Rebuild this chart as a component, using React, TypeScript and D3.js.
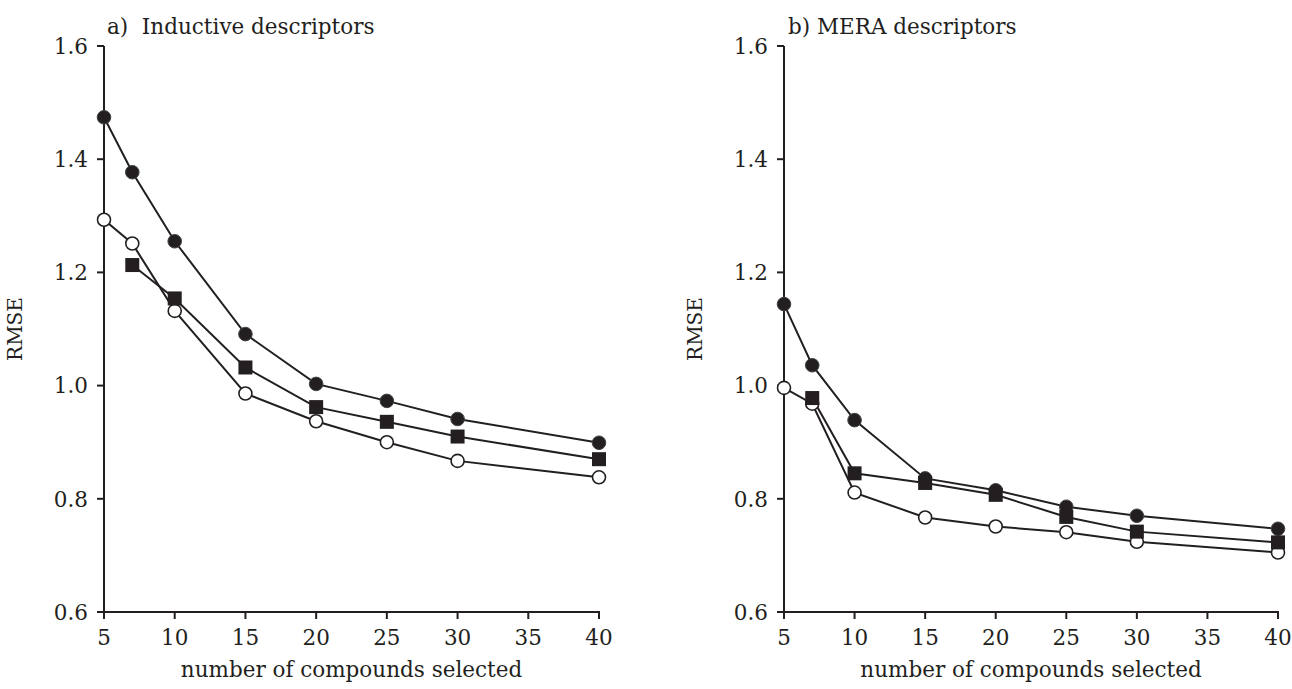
import React from "react";
import * as d3 from "d3";

// Number of compounds selected (shared x values)
const nSelected = [5, 7, 10, 15, 20, 25, 30, 40];
const xTicks = [5, 10, 15, 20, 25, 30, 35, 40];
const yTicks = [0.6, 0.8, 1.0, 1.2, 1.4, 1.6];

// Panel a) Inductive descriptors — RMSE per selection method
const inductiveFilled = [1.474, 1.377, 1.255, 1.091, 1.003, 0.973, 0.941, 0.899];
const inductiveSquare = [null, 1.213, 1.154, 1.032, 0.962, 0.936, 0.91, 0.87];
const inductiveOpen = [1.293, 1.251, 1.132, 0.986, 0.937, 0.9, 0.867, 0.838];

// Panel b) MERA descriptors — RMSE per selection method
const meraFilled = [1.144, 1.036, 0.939, 0.836, 0.815, 0.786, 0.77, 0.747];
const meraSquare = [null, 0.978, 0.845, 0.828, 0.807, 0.768, 0.742, 0.723];
const meraOpen = [0.996, 0.968, 0.811, 0.767, 0.751, 0.741, 0.724, 0.705];

const INK = "#231f20";
const FONT = "'DejaVu Serif', 'Liberation Serif', serif";

type Series = (number | null)[];

interface PanelProps {
  left: number;
  right: number;
  title: string;
  titleX: number;
  filled: Series;
  square: Series;
  open: Series;
}

const TOP = 46;
const BOTTOM = 612;

function Panel({ left, right, title, titleX, filled, square, open }: PanelProps) {
  const x = d3.scaleLinear().domain([5, 40]).range([left, right]);
  const y = d3.scaleLinear().domain([0.6, 1.6]).range([BOTTOM, TOP]);

  const pts = (s: Series) =>
    nSelected
      .map((n, i) => ({ n, v: s[i] }))
      .filter((p) => p.v !== null) as { n: number; v: number }[];

  const line = d3
    .line<{ n: number; v: number }>()
    .x((p) => x(p.n))
    .y((p) => y(p.v));

  const tick = 7;
  const cx = (left + right) / 2;

  return (
    <g fontFamily={FONT} fill={INK}>
      <text x={titleX} y={34} fontSize={21.5} xmlSpace="preserve" style={{ whiteSpace: "pre" }}>
        {title}
      </text>

      {/* axes */}
      <line x1={left} x2={left} y1={TOP} y2={BOTTOM} stroke={INK} strokeWidth={2} />
      <line x1={left - tick} x2={right + 1} y1={BOTTOM} y2={BOTTOM} stroke={INK} strokeWidth={2} />
      {yTicks.map((t) => (
        <g key={t}>
          <line x1={left - tick} x2={left} y1={y(t)} y2={y(t)} stroke={INK} strokeWidth={2} />
          <text x={left - 16} y={y(t)} dy="0.36em" textAnchor="end" fontSize={21.5}>
            {t.toFixed(1)}
          </text>
        </g>
      ))}
      {xTicks.map((t) => (
        <g key={t}>
          <line x1={x(t)} x2={x(t)} y1={BOTTOM} y2={BOTTOM + tick} stroke={INK} strokeWidth={2} />
          <text x={x(t)} y={645} textAnchor="middle" fontSize={21.5}>
            {t}
          </text>
        </g>
      ))}
      <text x={cx} y={677} textAnchor="middle" fontSize={21.5}>
        number of compounds selected
      </text>
      <text
        transform={`translate(${left - 82},${(TOP + BOTTOM) / 2}) rotate(-90)`}
        textAnchor="middle"
        fontSize={20}
      >
        RMSE
      </text>

      {/* connecting lines */}
      {[open, filled, square].map((s, i) => (
        <path key={i} d={line(pts(s)) || ""} fill="none" stroke={INK} strokeWidth={2} />
      ))}

      {/* markers */}
      {pts(open).map((p) => (
        <circle key={"o" + p.n} cx={x(p.n)} cy={y(p.v)} r={6.5} fill="#fff" stroke={INK} strokeWidth={1.6} />
      ))}
      {pts(filled).map((p) => (
        <circle key={"f" + p.n} cx={x(p.n)} cy={y(p.v)} r={6.8} fill={INK} stroke="#444" strokeWidth={1} />
      ))}
      {pts(square).map((p) => (
        <rect key={"s" + p.n} x={x(p.n) - 7} y={y(p.v) - 7} width={14} height={14} fill={INK} />
      ))}
    </g>
  );
}

export default function App() {
  return (
    <svg
      width={1292}
      height={689}
      style={{ position: "absolute", left: 0, top: 0, background: "#fff" }}
    >
      <rect width={1292} height={689} fill="#fff" />
      <Panel
        left={104}
        right={599}
        title="a)  Inductive descriptors"
        titleX={107}
        filled={inductiveFilled}
        square={inductiveSquare}
        open={inductiveOpen}
      />
      <Panel
        left={784}
        right={1278}
        title="b) MERA descriptors"
        titleX={788}
        filled={meraFilled}
        square={meraSquare}
        open={meraOpen}
      />
    </svg>
  );
}
